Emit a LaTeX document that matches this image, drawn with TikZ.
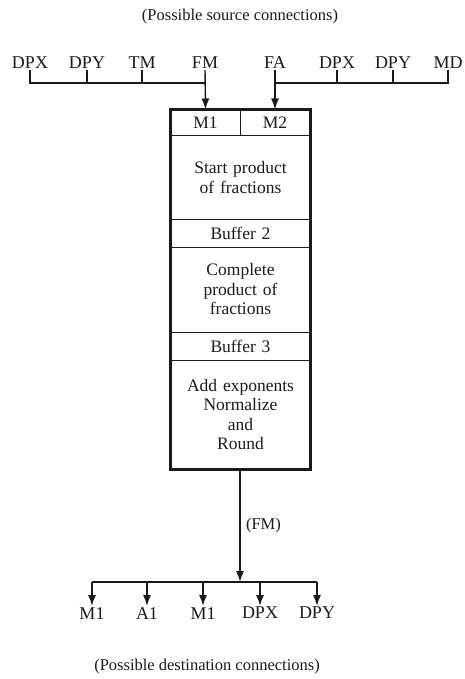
\documentclass[tikz,border=0pt]{standalone}
\usepackage{fontspec}
\setmainfont{Liberation Serif}
\usepackage{tikz}
\usetikzlibrary{arrows.meta, positioning}
\definecolor{ink}{HTML}{1A1A1A}
\definecolor{paper}{HTML}{FFFFFF}

\begin{document}
\begin{tikzpicture}[x=1pt, y=-1pt,
    port/.style={inner sep=1pt, font=\fontsize{18}{20}\selectfont, text=ink},
    section/.style={rectangle, draw=ink, line width=1pt, minimum width=139pt, text width=134pt, align=center, inner sep=0pt, font=\fontsize{17.5}{19.5}\selectfont, text=ink},
    half/.style={rectangle, draw=ink, line width=1pt, minimum height=26pt, inner sep=0pt, font=\fontsize{17.5}{19.5}\selectfont, text=ink},
    note/.style={font=\fontsize{16.5}{19}\selectfont, text=ink},
    bus/.style={line width=1.4pt, color=ink},
    arr/.style={-{Latex[length=11pt, width=8pt]}, line width=1.4pt, color=ink}
]
    \useasboundingbox (0,0) rectangle (465,679);

    % Sources
    \node[note] (srctitle) at (240, 17) {(Possible source connections)};
    \node[port, anchor=south] (dpxa) at (30, 70) {DPX};
    \node[port, anchor=south] (dpya) at (87, 70) {DPY};
    \node[port, anchor=south] (tm) at (142, 70) {TM};
    \node[port, anchor=south] (fm) at (205, 70) {FM};
    \node[port, anchor=south] (fa) at (275, 70) {FA};
    \node[port, anchor=south] (dpxb) at (337, 70) {DPX};
    \node[port, anchor=south] (dpyb) at (393, 70) {DPY};
    \node[port, anchor=south] (md) at (448, 70) {MD};
    \coordinate (lbus) at (205, 83);
    \coordinate (rbus) at (275, 83);

    % Pipeline
    \node[half, minimum width=69pt] (m1) at (205.5, 123) {M1};
    \node[half, minimum width=70pt] (m2) at (275, 123) {M2};
    \node[section, minimum height=83pt] (start) at (240.5, 177.5) {Start product\\of fractions};
    \node[section, minimum height=28pt] (buf2) at (240.5, 233) {Buffer 2};
    \node[section, minimum height=85pt] (complete) at (240.5, 289.5) {Complete\\product of\\fractions};
    \node[section, minimum height=28pt] (buf3) at (240.5, 346) {Buffer 3};
    \node[section, minimum height=109pt] (round) at (240.5, 414.5) {Add exponents\\Normalize\\and\\Round};
    \draw[ink, line width=2.2pt] (m1.north west) rectangle (round.south east);

    % Destinations
    \coordinate (split) at (240, 582);
    \node[port, anchor=north] (m1a) at (92, 606) {M1};
    \node[port, anchor=north] (a1) at (147, 606) {A1};
    \node[port, anchor=north] (m1b) at (203, 606) {M1};
    \node[port, anchor=north] (dpxc) at (260, 606) {DPX};
    \node[port, anchor=north] (dpyc) at (317, 606) {DPY};
    \node[note] (dsttitle) at (207, 667) {(Possible destination connections)};

    \draw[bus] (dpxa.south) -- (dpxa.south |- lbus) -- (lbus);
    \draw[bus] (dpya.south) -- (dpya.south |- lbus);
    \draw[bus] (tm.south) -- (tm.south |- lbus);
    \draw[bus] (md.south) -- (md.south |- rbus) -- (rbus);
    \draw[bus] (dpxb.south) -- (dpxb.south |- rbus);
    \draw[bus] (dpyb.south) -- (dpyb.south |- rbus);
    \draw[arr] (fm.south) -- (m1.north);
    \draw[arr] (fa.south) -- (m2.north);

    \draw[arr] (round.south -| split) -- node[pos=0.5, right=2pt, note] {(FM)} (split);
    \draw[bus] (m1a.north |- split) -- (dpyc.north |- split);
    \draw[arr] (m1a.north |- split) -- (m1a.north);
    \draw[arr] (a1.north |- split) -- (a1.north);
    \draw[arr] (m1b.north |- split) -- (m1b.north);
    \draw[arr] (dpxc.north |- split) -- (dpxc.north);
    \draw[arr] (dpyc.north |- split) -- (dpyc.north);
\end{tikzpicture}
\end{document}
